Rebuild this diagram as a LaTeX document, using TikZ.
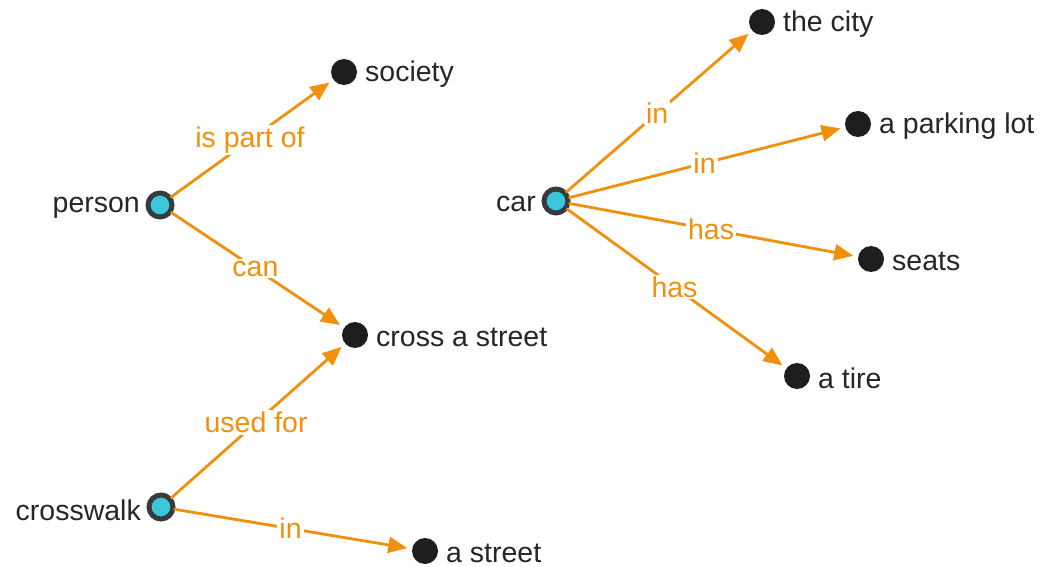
\documentclass[tikz,border=0pt]{standalone}
\usepackage{fontspec}
\setmainfont{Liberation Sans}
\usetikzlibrary{arrows.meta}
\definecolor{edgeorange}{HTML}{F0900C}
\definecolor{hubfill}{HTML}{3CC6D9}
\definecolor{hubring}{HTML}{363B40}
\definecolor{dotblack}{HTML}{1E1E1E}
\definecolor{labeltext}{HTML}{262626}
\tikzset{
  hub/.style={circle, fill=hubfill, draw=hubring, line width=5pt, minimum size=24pt, inner sep=0pt, outer sep=1pt},
  leaf/.style={circle, fill=dotblack, minimum size=26pt, inner sep=0pt, outer sep=5pt},
  namel/.style={text=labeltext, inner sep=0pt, label distance=7pt, yshift=-3pt},
  leafname/.style={text=labeltext, inner sep=0pt, label distance=3pt, yshift=-2pt},
  rel/.style={draw=edgeorange, line width=2.8pt, -{Triangle[length=19pt,width=16pt]}},
  rellabel/.style={midway, fill=white, text=edgeorange, inner sep=2pt},
}
\begin{document}
\begin{tikzpicture}[x=1pt, y=-1pt, font=\fontsize{28.5}{30}\selectfont]
\useasboundingbox (0,0) rectangle (1045,567);

% concept nodes
\node[hub, label={[namel]left:person}] (person) at (160,205) {};
\node[hub, label={[namel]left:crosswalk}] (crosswalk) at (161,507) {};
\node[hub, label={[namel]left:car}] (car) at (556,201) {};

\node[leaf, label={[leafname]right:society}] (society) at (344,72) {};
\node[leaf, label={[leafname]right:cross a street}] (cross) at (355,335) {};
\node[leaf, label={[leafname]right:a street}] (street) at (425,551) {};
\node[leaf, label={[leafname]right:the city}] (city) at (762,22) {};
\node[leaf, label={[leafname]right:a parking lot}] (parking) at (858,124) {};
\node[leaf, label={[leafname]right:seats}] (seats) at (871,259) {};
\node[leaf, label={[leafname]right:a tire}] (tire) at (797,376) {};

% relations
\draw[rel] (person) -- node[rellabel] {is part of} (society);
\draw[rel] (person) -- node[rellabel] {can} (cross);
\draw[rel] (crosswalk) -- node[rellabel] {used for} (cross);
\draw[rel] (crosswalk) -- node[rellabel] {in} (street);
\draw[rel] (car) -- node[rellabel] {in} (city);
\draw[rel] (car) -- node[rellabel] {in} (parking);
\draw[rel] (car) -- node[rellabel] {has} (seats);
\draw[rel] (car) -- node[rellabel] {has} (tire);
\end{tikzpicture}
\end{document}
